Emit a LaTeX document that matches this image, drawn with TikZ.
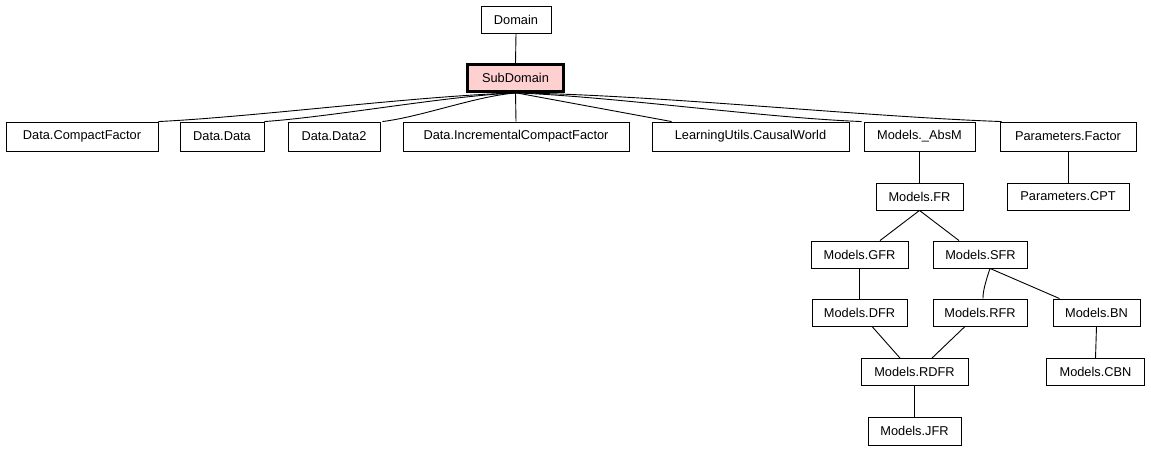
\documentclass[tikz,border=0pt]{standalone}
\usepackage{fontspec}
\setmainfont{Liberation Sans}
\definecolor{pinkfill}{RGB}{255,208,208}
\begin{document}
\begin{tikzpicture}[x=1pt,y=-1pt,
  box/.style={draw=black,line width=0.9pt,fill=white,inner sep=0pt,font=\fontsize{12.8}{15}\selectfont},
  hl/.style={box,line width=2.8pt,fill=pinkfill},
  edge/.style={draw=black,line width=0.9pt}]
\useasboundingbox (0,0) rectangle (1151,451);
\fill[white] (0,0) rectangle (1151,451);
% nodes
\node[box,minimum width=70pt,minimum height=27pt] (dom) at (516,19.5) {Domain};
\node[hl,minimum width=96pt,minimum height=27pt] (sub) at (515.5,78) {SubDomain};
\node[box,minimum width=152pt,minimum height=29pt] (cf) at (82,136.5) {Data.CompactFactor};
\node[box,minimum width=84pt,minimum height=29pt] (dd) at (222,136.5) {Data.Data};
\node[box,minimum width=92pt,minimum height=29pt] (dd2) at (334,136.5) {Data.Data2};
\node[box,minimum width=226pt,minimum height=29pt] (icf) at (516,136.5) {Data.IncrementalCompactFactor};
\node[box,minimum width=197pt,minimum height=29pt] (lu) at (750.5,136.5) {LearningUtils.CausalWorld};
\node[box,minimum width=111pt,minimum height=29pt] (abs) at (919.5,136.5) {Models.\_AbsM};
\node[box,minimum width=136pt,minimum height=29pt] (pf) at (1068,136.5) {Parameters.Factor};
\node[box,minimum width=87pt,minimum height=27pt] (fr) at (919.5,196.5) {Models.FR};
\node[box,minimum width=122pt,minimum height=27pt] (cpt) at (1068,196.5) {Parameters.CPT};
\node[box,minimum width=97pt,minimum height=27pt] (gfr) at (859.5,254.5) {Models.GFR};
\node[box,minimum width=94pt,minimum height=27pt] (sfr) at (980.5,254.5) {Models.SFR};
\node[box,minimum width=95pt,minimum height=27pt] (dfr) at (859.5,312.5) {Models.DFR};
\node[box,minimum width=94pt,minimum height=27pt] (rfr) at (980,312.5) {Models.RFR};
\node[box,minimum width=87pt,minimum height=27pt] (bn) at (1096.5,312.5) {Models.BN};
\node[box,minimum width=107pt,minimum height=27pt] (rdfr) at (914.5,372) {Models.RDFR};
\node[box,minimum width=98pt,minimum height=27pt] (cbn) at (1095.5,372) {Models.CBN};
\node[box,minimum width=93pt,minimum height=28pt] (jfr) at (914.5,431) {Models.JFR};
% edges
\draw[edge] (dom.south) -- (sub.north);
\draw[edge] ([xshift=1pt]sub.south) .. controls +(-100,3) and +(100,-5) .. (cf.north east);
\draw[edge] ([xshift=1pt]sub.south) .. controls +(-70,3) and +(70,-5) .. (dd.north east);
\draw[edge] ([xshift=1pt]sub.south) .. controls +(-40,3) and +(40,-5) .. ([xshift=2pt]dd2.north east);
\draw[edge] (sub.south) -- (icf.north);
\draw[edge] ([xshift=1pt]sub.south) -- ([xshift=20pt]lu.north west);
\draw[edge] ([xshift=1pt]sub.south) .. controls +(100,4) and +(-100,-4) .. ([xshift=-2pt]abs.north west);
\draw[edge] ([xshift=1pt]sub.south) .. controls +(140,2) and +(-140,-5) .. ([xshift=2pt]pf.north west);
\draw[edge] (abs.south) -- (fr.north);
\draw[edge] (pf.south) -- (cpt.north);
\draw[edge] (fr.south) -- ([xshift=20.5pt]gfr.north);
\draw[edge] (fr.south) -- ([xshift=-21.5pt]sfr.north);
\draw[edge] (gfr.south) -- (dfr.north);
\draw[edge] ([xshift=9.5pt]sfr.south) .. controls +(-2,6) and +(-0.5,-8) .. ([xshift=3pt]rfr.north);
\draw[edge] ([xshift=9.5pt]sfr.south) -- ([xshift=7pt]bn.north west);
\draw[edge] ([xshift=12.5pt]dfr.south) -- ([xshift=-14.5pt]rdfr.north);
\draw[edge] ([xshift=-15pt]rfr.south) -- ([xshift=17.5pt]rdfr.north);
\draw[edge] (bn.south) -- (cbn.north);
\draw[edge] (rdfr.south) -- (jfr.north);
\end{tikzpicture}
\end{document}
